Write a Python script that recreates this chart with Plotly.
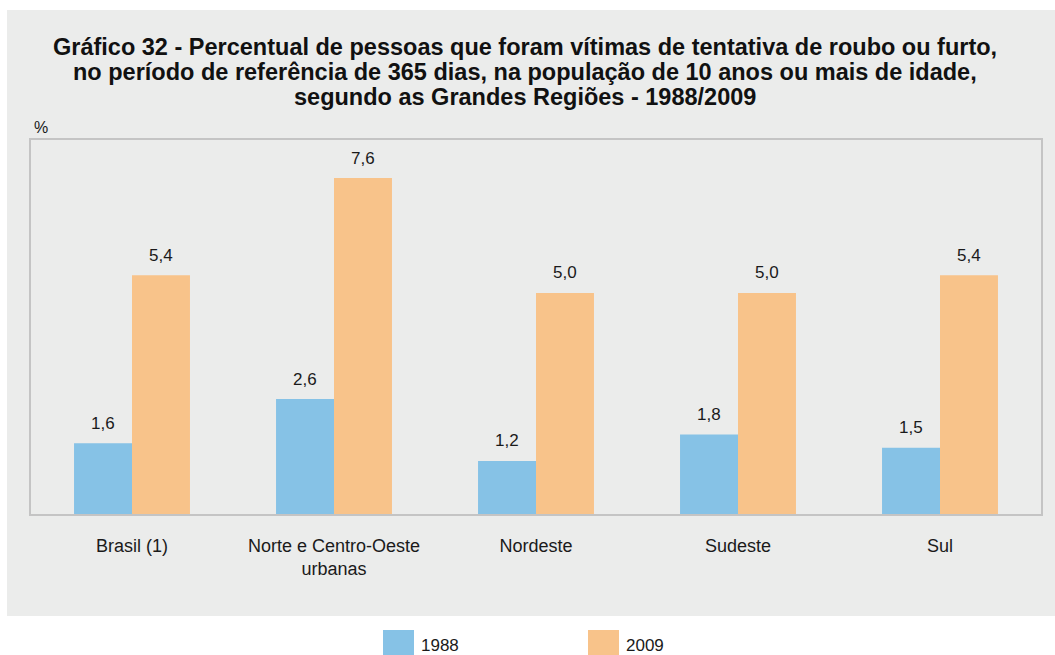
import plotly.graph_objects as go

# Data
regions = ["Brasil (1)", "Norte e Centro-Oeste<br>urbanas", "Nordeste", "Sudeste", "Sul"]
years = ["1988", "2009"]
values_1988 = [1.6, 2.6, 1.2, 1.8, 1.5]
values_2009 = [5.4, 7.6, 5.0, 5.0, 5.4]
title_lines = [
    "Gráfico 32 - Percentual de pessoas que foram vítimas de tentativa de roubo ou furto,",
    "no período de referência de 365 dias, na população de 10 anos ou mais de idade,",
    "segundo as Grandes Regiões - 1988/2009",
]

colors = {"1988": "#86C2E6", "2009": "#F8C38A"}
series = {"1988": values_1988, "2009": values_2009}

W, H = 1055, 655
ml, mr, mt, mb = 31, 14, 140, 141
plot_w = W - ml - mr
plot_h = H - mt - mb
bargap = 0.426
bar_px = plot_w / len(regions) * (1 - bargap) / 2

font_family = "Liberation Sans, Arial, sans-serif"
text_color = "#1a1a1a"

def px_x(px):
    return (px - ml) / plot_w

def px_y(py):
    return (mt + plot_h - py) / plot_h

fig = go.Figure()
for yr in years:
    fig.add_trace(go.Bar(
        x=regions, y=series[yr], name=yr,
        marker=dict(color=colors[yr], line=dict(width=0)),
        showlegend=False,
    ))

annotations = []

# value labels above each bar
for i, yr in enumerate(years):
    shift = (i - 0.5) * bar_px
    for reg, v in zip(regions, series[yr]):
        annotations.append(dict(
            x=reg, y=v, xref="x", yref="y",
            text=f"{v:.1f}".replace(".", ","),
            showarrow=False, yanchor="middle", xshift=shift, yshift=20,
            font=dict(size=17, color=text_color, family=font_family),
        ))

# title, one line per annotation for tighter leading
for k, line in enumerate(title_lines):
    annotations.append(dict(
        x=px_x(525), y=px_y(47 + 25 * k), xref="paper", yref="paper",
        text=f"<b>{line}</b>", showarrow=False, xanchor="center", yanchor="middle",
        font=dict(size=23.5, color="#111111", family=font_family),
    ))

# unit label
annotations.append(dict(
    x=px_x(41), y=px_y(127), xref="paper", yref="paper",
    text="%", showarrow=False, xanchor="center", yanchor="middle",
    font=dict(size=16, color=text_color, family=font_family),
))

shapes = [
    # grey panel behind the chart
    dict(type="rect", xref="paper", yref="paper", layer="below",
         x0=px_x(7), x1=px_x(W + 5), y0=px_y(616), y1=px_y(10),
         fillcolor="#EBECEB", line=dict(width=0)),
]

# legend swatches and labels
legend_items = [("1988", 383), ("2009", 588)]
for yr, x0 in legend_items:
    shapes.append(dict(type="rect", xref="paper", yref="paper",
                       x0=px_x(x0), x1=px_x(x0 + 31), y0=px_y(H + 2), y1=px_y(630),
                       fillcolor=colors[yr], line=dict(width=0)))
    annotations.append(dict(
        x=px_x(x0 + 36), y=px_y(645), xref="paper", yref="paper",
        text=yr, showarrow=False, xanchor="left", yanchor="middle",
        font=dict(size=17, color=text_color, family=font_family),
    ))

fig.update_layout(
    width=W, height=H,
    margin=dict(l=ml, r=mr, t=mt, b=mb),
    paper_bgcolor="white",
    plot_bgcolor="white",
    barmode="group",
    bargap=bargap,
    bargroupgap=0,
    xaxis=dict(
        showline=True, mirror=True, linecolor="#C4C4C4", linewidth=2,
        showgrid=False, ticks="", ticklabelstandoff=14,
        tickfont=dict(size=18, color=text_color, family=font_family),
    ),
    yaxis=dict(
        range=[0, 8.46], showline=True, mirror=True, linecolor="#C4C4C4", linewidth=2,
        showgrid=False, zeroline=False, showticklabels=False, ticks="",
    ),
    annotations=annotations,
    shapes=shapes,
    showlegend=False,
)

fig.write_html("out.html")
